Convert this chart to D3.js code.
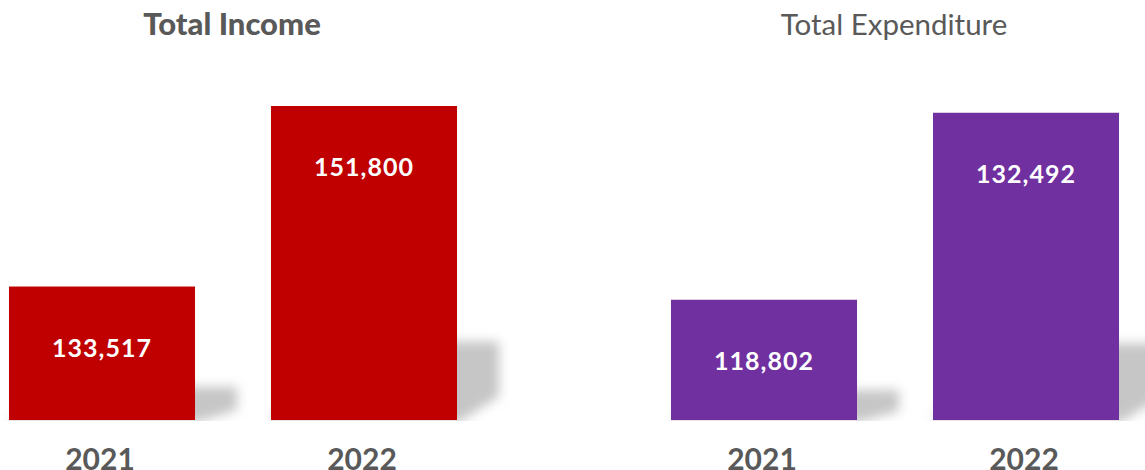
<!DOCTYPE html>
<html>
<head>
<meta charset="utf-8">
<script src="https://cdn.jsdelivr.net/npm/d3@7"></script>
<style>
  body { margin: 0; background: #fff; }
  svg { display: block; font-family: Lato, "Open Sans", sans-serif; }
</style>
</head>
<body>
<svg id="chart"></svg>
<script>
const width = 1145;
const height = 470;

// data
const years = ["2021", "2022"];
const income = [133517, 151800];
const expenditure = [118802, 132492];
const titles = ["Total Income", "Total Expenditure"];

const baseY = 420;

const svg = d3.select("#chart")
    .attr("width", width)
    .attr("height", height);

const defs = svg.append("defs");
defs.append("filter")
    .attr("id", "soft")
    .attr("x", "-50%").attr("y", "-50%")
    .attr("width", "200%").attr("height", "200%")
  .append("feGaussianBlur")
    .attr("stdDeviation", 5.5);
defs.append("clipPath")
    .attr("id", "aboveBase")
  .append("rect")
    .attr("x", 0).attr("y", 0)
    .attr("width", width).attr("height", baseY + 1);

const panels = [
    { title: titles[0], bold: true, size: 31, values: income, color: "#C00000", center: 233, domain: [120000, 155000], top: 74.4 },
    { title: titles[1], bold: false, size: 29.5, values: expenditure, color: "#7030A0", center: 895, domain: [110000, 135000], top: 78.5 }
];

panels.forEach(p => {
    const data = years.map((y, i) => ({ year: y, value: p.values[i] }));

    const x = d3.scaleBand()
        .domain(years)
        .range([p.center - 262, p.center + 262])
        .paddingInner(0.29)
        .paddingOuter(0.145);

    const y = d3.scaleLinear()
        .domain(p.domain)
        .range([baseY, p.top]);

    const g = svg.append("g");

    // perspective shadow behind each bar
    g.append("g")
        .attr("clip-path", "url(#aboveBase)")
      .selectAll("polygon")
      .data(data)
      .enter().append("polygon")
        .attr("fill", "#c6c6c6")
        .attr("filter", "url(#soft)")
        .attr("points", d => {
            const x0 = x(d.year), x1 = x0 + x.bandwidth();
            const hs = (baseY - y(d.value)) * 0.25;
            const dx = 42;
            return [
                [x0, baseY + 2], [x1 + 2, baseY + 2],
                [x1 + dx, baseY - hs * 0.3],
                [x1 + dx, baseY - hs],
                [x0 + dx, baseY - hs]
            ].map(q => q.join(",")).join(" ");
        });

    g.selectAll(".bar")
      .data(data)
      .enter().append("rect")
        .attr("class", "bar")
        .attr("x", d => x(d.year))
        .attr("y", d => y(d.value))
        .attr("width", x.bandwidth())
        .attr("height", d => baseY - y(d.value))
        .attr("fill", p.color);

    // faint base line under the bars
    g.selectAll(".base")
      .data(data)
      .enter().append("line")
        .attr("x1", d => x(d.year))
        .attr("x2", d => x(d.year) + x.bandwidth())
        .attr("y1", baseY + 0.5)
        .attr("y2", baseY + 0.5)
        .attr("stroke", "#e6e6e6");

    g.selectAll(".value")
      .data(data)
      .enter().append("text")
        .attr("x", d => x(d.year) + x.bandwidth() / 2)
        .attr("y", d => y(d.value) + 60)
        .attr("text-anchor", "middle")
        .attr("dominant-baseline", "central")
        .attr("fill", "#fff")
        .attr("font-weight", "bold")
        .attr("font-size", 25)
        .attr("letter-spacing", 1)
        .text(d => d3.format(",")(d.value));

    g.selectAll(".year")
      .data(data)
      .enter().append("text")
        .attr("x", d => x(d.year) + x.bandwidth() / 2 - 2)
        .attr("y", 470)
        .attr("text-anchor", "middle")
        .attr("fill", "#595959")
        .attr("font-weight", "bold")
        .attr("font-size", 30)
        .text(d => d.year);

    g.append("text")
        .attr("x", p.center - 1)
        .attr("y", 35)
        .attr("text-anchor", "middle")
        .attr("fill", "#595959")
        .attr("font-weight", p.bold ? 900 : "normal")
        .attr("font-size", p.size)
        .text(p.title);
});
</script>
</body>
</html>
